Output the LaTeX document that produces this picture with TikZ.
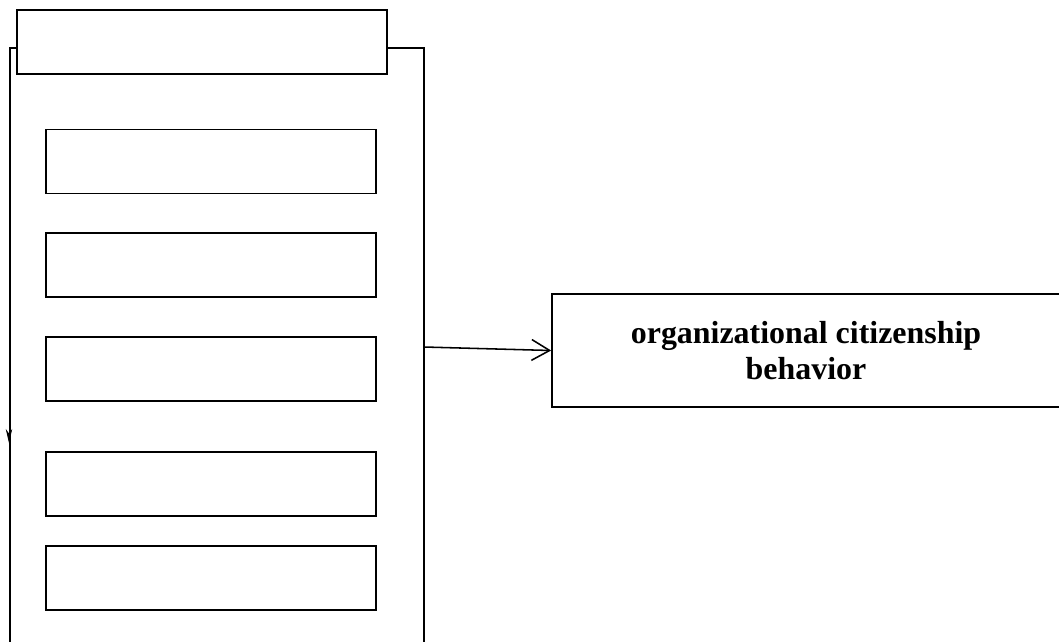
\documentclass[tikz,border=0pt]{standalone}
\usepackage{fontspec}
\setmainfont{Liberation Serif}
\usetikzlibrary{arrows.meta, positioning}
\tikzset{
  box/.style    = {draw, line width=0.9pt, fill=white, inner sep=0pt,
                   minimum width=8.25cm, minimum height=1.6cm},
  tbox/.style   = {box, minimum width=9.25cm},
  dvbox/.style  = {draw, line width=1.1pt, fill=white, align=center,
                   minimum width=12.7cm, minimum height=2.825cm,
                   font=\fontsize{22.7}{25.6}\selectfont\bfseries},
  frame/.style  = {line width=1.2pt},
  arrow/.style  = {-{Straight Barb[length=4.5mm, width=5.2mm]}, line width=1.1pt},
}
\begin{document}
\begin{tikzpicture}[x=0.025cm, y=-0.025cm]
  \useasboundingbox (0,0) rectangle (1059,641);
  % open frame around the factors
  \draw[frame] (10,650) -- (10,48) -- (424,48) -- (424,650);
  \draw[-{Stealth[length=3.5mm, width=1.6mm]}, line width=0.6pt] (9,425) -- (9,443);
  \coordinate (outR) at (424,347);
  % header
  \node[tbox] (head) at (202,42) {};
  % factor boxes
  \foreach \y [count=\i] in {161.5, 265, 369, 484, 578} {
    \node[box] (f\i) at (211,\y) {};
  }
  % outcome
  \node[dvbox] (dv) at (806,350.5) {organizational citizenship\\behavior};
  \draw[arrow] (outR) -- (dv.west);
\end{tikzpicture}
\end{document}
